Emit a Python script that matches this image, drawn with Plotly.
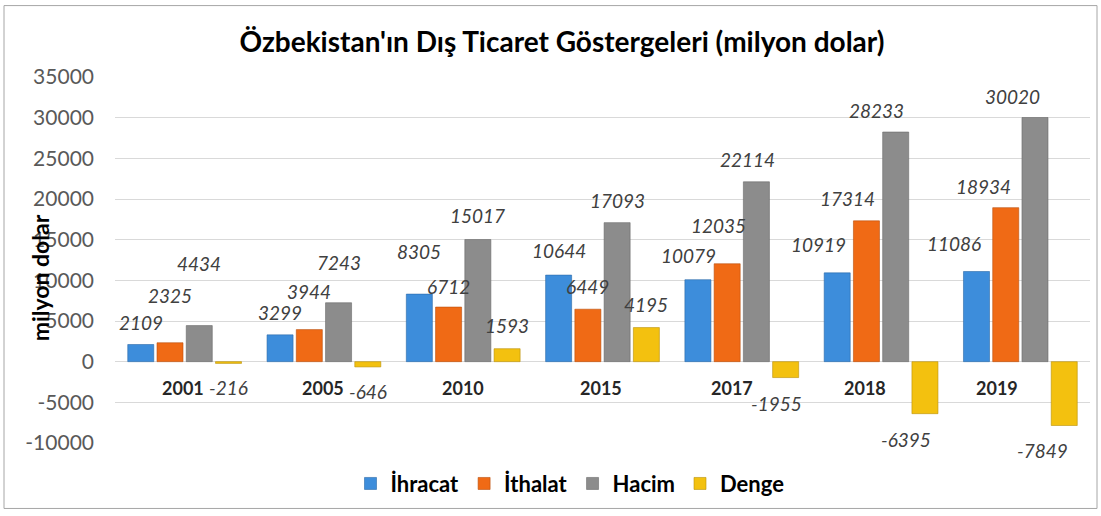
import plotly.graph_objects as go

# ---- data ----
years = ["2001", "2005", "2010", "2015", "2017", "2018", "2019"]
ihracat = [2109, 3299, 8305, 10644, 10079, 10919, 11086]
ithalat = [2325, 3944, 6712, 6449, 12035, 17314, 18934]
hacim = [4434, 7243, 15017, 17093, 22114, 28233, 30020]
denge = [-216, -646, 1593, 4195, -1955, -6395, -7849]
series_names = ["İhracat", "İthalat", "Hacim", "Denge"]
y_ticks = [-10000, -5000, 0, 5000, 10000, 15000, 20000, 25000, 30000, 35000]

# ---- style ----
colors = ["#3d8ddb", "#f06a15", "#8c8c8c", "#f3c10f"]
edge = ["#2b6aa8", "#b84f0e", "#6a6a6a", "#b8900a"]
# label distance from bar end (px), per series per year (manual placement as in the original)
label_dy = [
    [22, 22, 43, 25, 24, 28, 28],
    [47, 38, 21, 23, 38, 22, 21],
    [62, 40, 24, 22, 22, 22, 21],
    [24, 25, 23, 23, 26, 26, 25],
]
label_dx = [0, 0, 0, 0, -9, -19, -22]  # horizontal nudge per year group (px)
cat_dx = [-2, -1, 0, -2, -10, -16, -23]  # nudge of year labels (px)
FONT = "Lato, 'Open Sans', sans-serif"
W, H = 1101, 516
ML, MR, MT, MB = 115, 11, 77, 70
BARGAP, BARGROUPGAP = 0.16, 0.11

values = [ihracat, ithalat, hacim, denge]

fig = go.Figure()
for name, vals, c, e in zip(series_names, values, colors, edge):
    fig.add_trace(go.Bar(
        x=years, y=vals, name=f"<b>{name}</b>",
        marker=dict(color=c, line=dict(color=e, width=0.6)),
        hoverinfo="x+y",
    ))

# label positions derived from bar layout (category index on x)
plot_w = W - ML - MR
cw = plot_w / len(years)
gw = cw * (1 - BARGAP)
slot = gw / len(series_names)
annotations = []
for si, vals in enumerate(values):
    xs = (si - 1.5) * slot
    for yi, v in enumerate(vals):
        dy = label_dy[si][yi]
        annotations.append(dict(
            x=yi, y=v, xref="x", yref="y",
            text=f"<i>{v}</i>", showarrow=False,
            xshift=xs + label_dx[yi], yshift=dy if v >= 0 else -dy,
            font=dict(family=FONT, size=19, color="#404040"),
            xanchor="center", yanchor="middle",
        ))
# category labels just below zero line
for yi, yr in enumerate(years):
    annotations.append(dict(
        x=yi, y=0, xref="x", yref="y", text=f"<b>{yr}</b>",
        showarrow=False, xshift=cat_dx[yi], yshift=-26,
        xanchor="center", yanchor="middle",
        font=dict(family=FONT, size=18, color="#262626"),
    ))
# y-axis title
plot_h = H - MT - MB
annotations.append(dict(
    x=(40 - ML) / plot_w, y=(H - MB - 280) / plot_h, xref="paper", yref="paper",
    text="<b>milyon dolar</b>", textangle=-90, showarrow=False,
    font=dict(family=FONT, size=23, color="#000000"),
    xanchor="center", yanchor="middle",
))

fig.update_layout(
    width=W, height=H,
    margin=dict(l=ML, r=MR, t=MT, b=MB),
    paper_bgcolor="white", plot_bgcolor="white",
    barmode="group", bargap=BARGAP, bargroupgap=BARGROUPGAP,
    title=dict(
        text="<b>Özbekistan'ın Dış Ticaret Göstergeleri (milyon dolar)</b>",
        x=562 / W, xanchor="center", y=1 - 42 / H, yanchor="middle",
        font=dict(family=FONT, size=28, color="#000000"),
    ),
    xaxis=dict(type="category", categoryorder="array", categoryarray=years,
               range=[-0.5, len(years) - 0.5],
               showticklabels=False, showgrid=False, zeroline=False,
               showline=False, ticks=""),
    yaxis=dict(range=[-10000, 35000], tickvals=y_ticks,
               ticktext=[str(t) for t in y_ticks],
               showgrid=True, gridcolor="#d9d9d9", gridwidth=1,
               zeroline=False, showline=False, ticks="",
               ticklabelstandoff=20,
               tickfont=dict(family=FONT, size=21, color="#595959")),
    legend=dict(orientation="h", x=(570 - ML) / plot_w, xanchor="center",
                y=(H - MB - 487) / plot_h, yanchor="middle",
                font=dict(family=FONT, size=22, color="#000000"),
                itemwidth=30, traceorder="normal",
                bgcolor="rgba(0,0,0,0)"),
    annotations=annotations,
    shapes=[dict(type="rect", xref="paper", yref="paper",
                 x0=(4 - ML) / plot_w, x1=(1097 - ML) / plot_w,
                 y0=(H - MB - 512) / plot_h, y1=(H - MB - 5) / plot_h,
                 line=dict(color="#a6a6a6", width=1), fillcolor="rgba(0,0,0,0)",
                 layer="below")],
    showlegend=True,
)

fig.write_html("out.html", config={"displayModeBar": False},
               post_script="document.body.style.margin='0';")
